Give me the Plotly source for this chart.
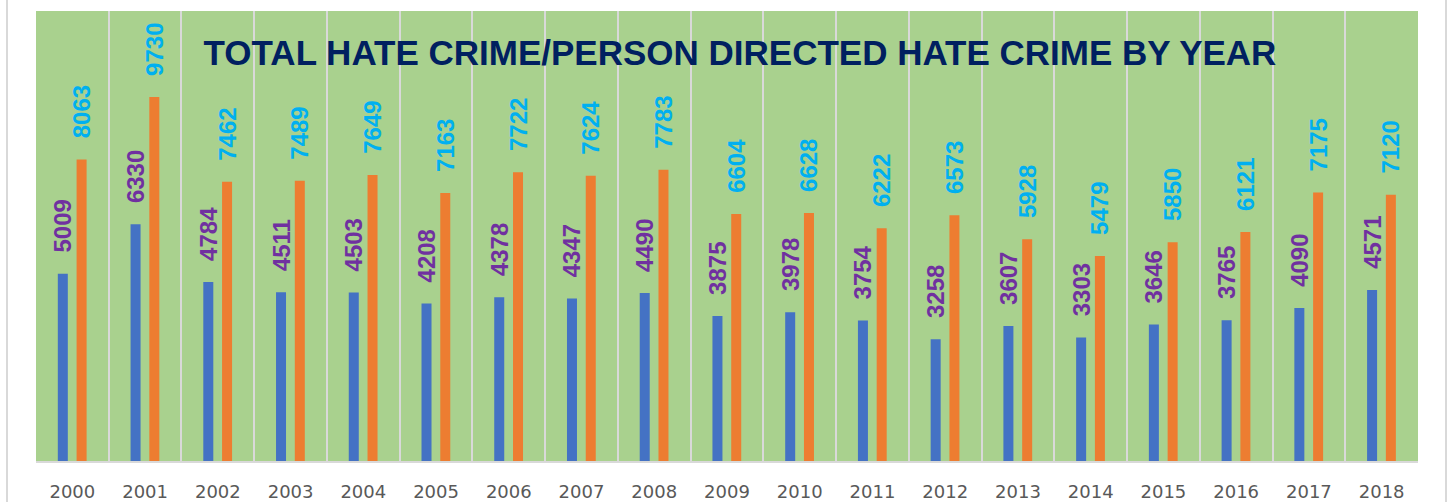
import plotly.graph_objects as go

years = ["2000", "2001", "2002", "2003", "2004", "2005", "2006", "2007", "2008", "2009",
         "2010", "2011", "2012", "2013", "2014", "2015", "2016", "2017", "2018"]
person_directed = [5009, 6330, 4784, 4511, 4503, 4208, 4378, 4347, 4490, 3875,
                   3978, 3754, 3258, 3607, 3303, 3646, 3765, 4090, 4571]
total_hate = [8063, 9730, 7462, 7489, 7649, 7163, 7722, 7624, 7783, 6604,
              6628, 6222, 6573, 5928, 5479, 5850, 6121, 7175, 7120]
title_text = "TOTAL HATE CRIME/PERSON DIRECTED HATE CRIME BY YEAR"

xpos = list(range(len(years)))
pad = "\u00a0\u00a0\u2009"
label_font = "Liberation Sans, Arial, sans-serif"

fig = go.Figure()
fig.add_trace(go.Bar(
    x=xpos, y=person_directed, name="Person directed",
    marker=dict(color="#4472C4", line=dict(width=0)),
    width=0.1375, offset=-0.2,
    text=[pad + str(v) for v in person_directed],
    textposition="outside", textangle=-90, constraintext="none", cliponaxis=False,
    textfont=dict(family=label_font, size=24, color="#7030A0", weight="bold"),
))
fig.add_trace(go.Bar(
    x=xpos, y=total_hate, name="Total",
    marker=dict(color="#ED7D31", line=dict(width=0)),
    width=0.1375, offset=0.058,
    text=[pad + str(v) for v in total_hate],
    textposition="outside", textangle=-90, constraintext="none", cliponaxis=False,
    textfont=dict(family=label_font, size=24, color="#00B0F0", weight="bold"),
))

fig.update_layout(
    width=1448, height=502,
    margin=dict(l=36, r=30, t=11, b=41),
    paper_bgcolor="white", plot_bgcolor="#A9D18E",
    barmode="overlay", showlegend=False,
    title=dict(text=title_text, x=740 / 1448, y=1 - 53 / 502,
               xanchor="center", yanchor="middle",
               font=dict(family=label_font, size=35, color="#002060", weight="bold")),
    xaxis=dict(
        range=[-0.5, len(years) - 0.5], tickmode="array", tickvals=xpos, ticktext=years,
        showgrid=False, zeroline=False, automargin=False,
        showline=True, linecolor="#D9D9D9", linewidth=2,
        ticks="", ticklabelstandoff=13,
        tickfont=dict(family="DejaVu Sans, sans-serif", size=18, color="#595959"),
        minor=dict(tickvals=[i - 0.5 for i in range(len(years) + 1)],
                   showgrid=True, gridcolor="#D9D9D9", gridwidth=2),
    ),
    yaxis=dict(range=[0, 12030], showgrid=False, zeroline=False, automargin=False,
               showticklabels=False, showline=False),
    shapes=[
        dict(type="line", xref="paper", yref="paper",
             x0=(7 - 36) / 1382, x1=(7 - 36) / 1382, y0=-41 / 450, y1=1 + 11 / 450,
             line=dict(color="#D9D9D9", width=2)),
        dict(type="line", xref="paper", yref="paper",
             x0=(1446 - 36) / 1382, x1=(1446 - 36) / 1382, y0=-41 / 450, y1=1 + 11 / 450,
             line=dict(color="#D9D9D9", width=2)),
    ],
)

fig.write_html("out.html", config={"displayModeBar": False},
               post_script="document.body.style.margin='0px';")
